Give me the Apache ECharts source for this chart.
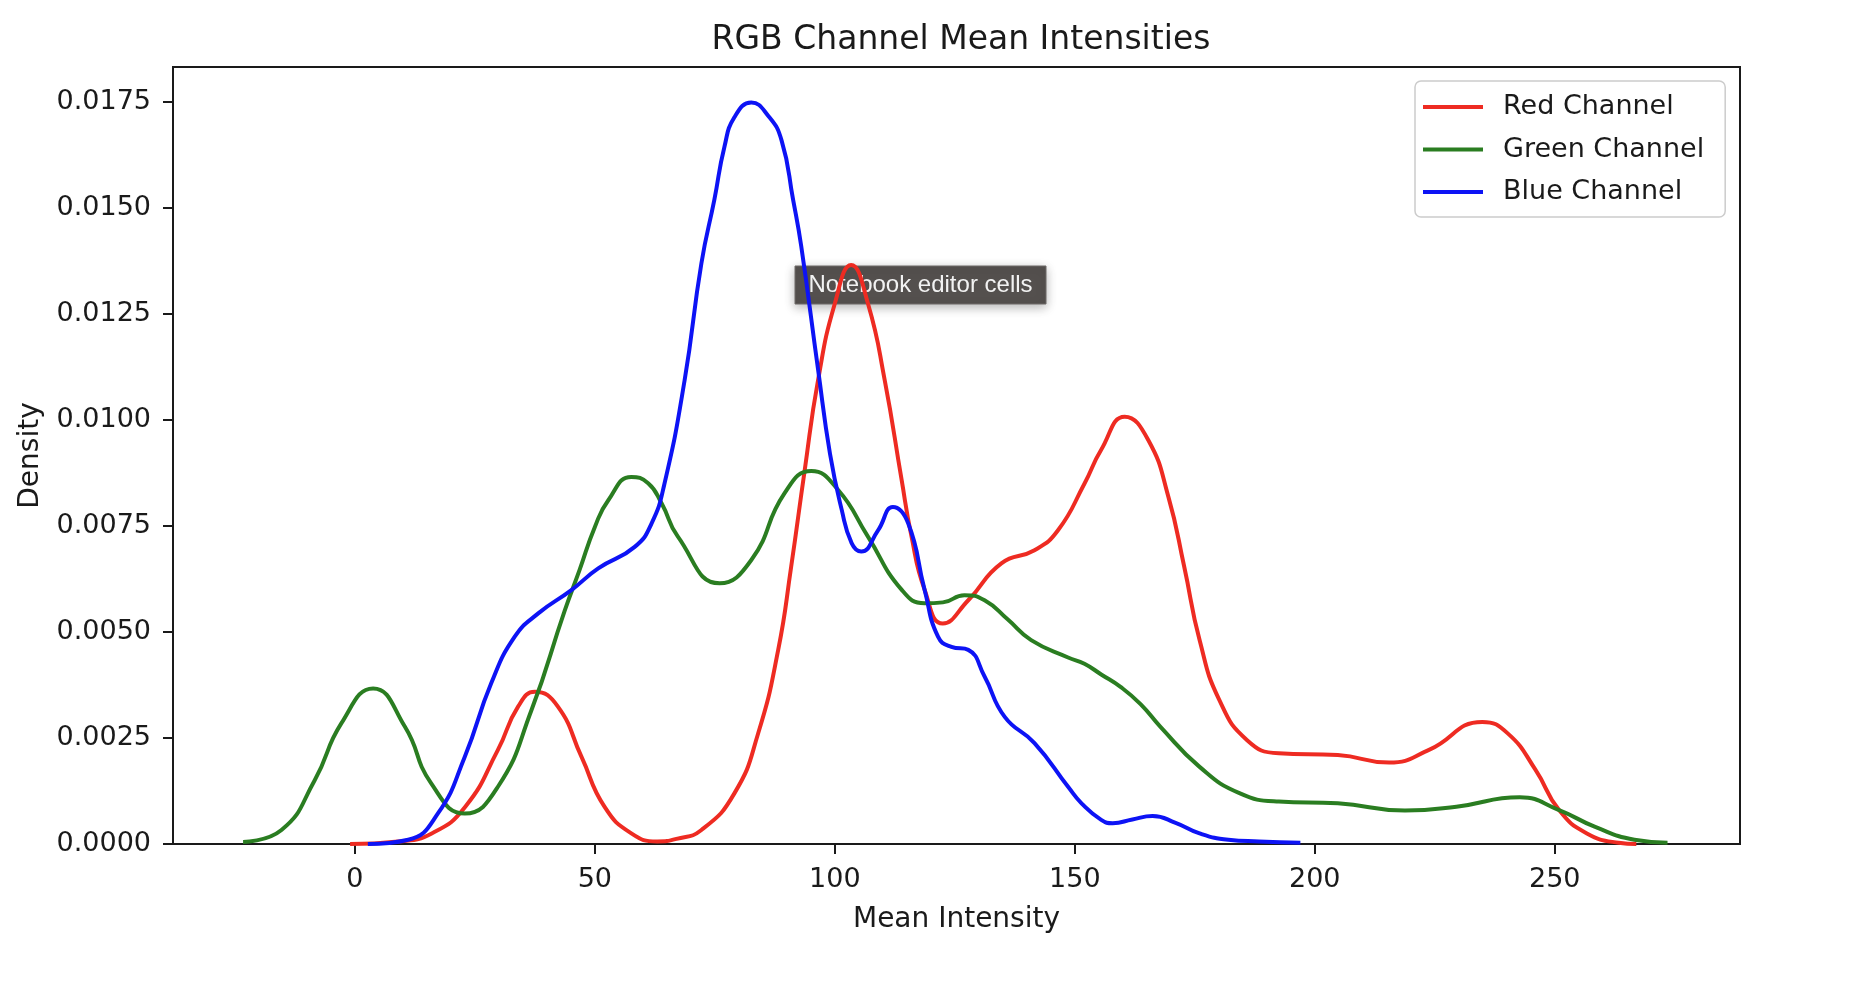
<!DOCTYPE html>
<html>
<head>
<meta charset="utf-8">
<script src="https://cdn.jsdelivr.net/npm/echarts@6/dist/echarts.min.js"></script>
<style>
html,body{margin:0;padding:0;background:#fff;}
#chart{width:1854px;height:982px;}
</style>
</head>
<body>
<div id="chart"></div>
<script>
var seriesNames = ['Red Channel', 'Green Channel', 'Blue Channel'];
var xTicks = [0, 50, 100, 150, 200, 250];
var yTicks = [0, 0.0025, 0.005, 0.0075, 0.01, 0.0125, 0.015, 0.0175];

var redX = [-1, 9, 16, 23, 29.8, 34, 37.5, 42.3, 47.2, 52, 57.6, 63, 67, 72.2, 79.1, 84, 88.2, 90.9, 93.7, 96.5, 100, 103.4, 106.9, 110.4, 113.9, 115.9, 118.7, 122.5, 127.8, 134.7, 141.6, 146.5, 152, 155.5, 160.4, 165.3, 169.5, 172.8, 176, 180.1, 185.9, 192.5, 204.8, 215.5, 223.8, 234.9, 240.2, 246, 250.9, 256.7, 263.3, 267];
var redY = [0, 0.00006, 0.00025, 0.00088, 0.00222, 0.00324, 0.00359, 0.00324, 0.00206, 0.00088, 0.00025, 0.00006, 0.00012, 0.00033, 0.0012, 0.0026, 0.00458, 0.00654, 0.0088, 0.01094, 0.01275, 0.01366, 0.01275, 0.01094, 0.0086, 0.0073, 0.006, 0.0052, 0.00575, 0.00662, 0.00693, 0.0074, 0.0085, 0.0093, 0.01008, 0.00953, 0.00819, 0.00654, 0.00481, 0.0034, 0.00245, 0.00214, 0.0021, 0.00192, 0.00222, 0.00288, 0.00261, 0.00175, 0.0008, 0.00025, 0.00003, 0];

var greenX = [-23.3, -15.3, -8.4, -2.8, 3.8, 10.4, 15.9, 22.9, 29.8, 36.8, 43.7, 46.8, 50, 52.8, 57.6, 61.1, 63.9, 67.3, 76, 82.6, 89.5, 95.1, 100.7, 106.9, 113.9, 118.7, 122.5, 127, 131.2, 136, 140.9, 148.6, 152, 155.5, 159.6, 163.7, 167.8, 176, 184.3, 192.5, 204.8, 218.8, 229.5, 242.7, 250.9, 258.3, 266.6, 273.5];
var greenY = [0.00005, 0.00033, 0.0015, 0.00285, 0.00367, 0.00277, 0.00143, 0.00072, 0.00135, 0.00316, 0.0055, 0.00646, 0.00748, 0.00811, 0.00866, 0.00851, 0.00804, 0.00725, 0.00615, 0.0067, 0.00827, 0.0088, 0.00835, 0.00725, 0.006, 0.00568, 0.0057, 0.00587, 0.00575, 0.0053, 0.00481, 0.0044, 0.00425, 0.004, 0.0037, 0.0033, 0.00277, 0.00182, 0.0012, 0.001, 0.00096, 0.00079, 0.00088, 0.0011, 0.0008, 0.00041, 0.0001, 0.00003];

var blueX = [2.7, 11.1, 17.3, 22.9, 28.4, 33.3, 38.2, 45.1, 50.7, 58.3, 61.8, 64.5, 68.7, 72.2, 74.9, 77, 79.1, 82.6, 86.1, 88.9, 91.3, 93, 96.5, 99, 101.4, 103.5, 105.5, 109, 112.1, 115.3, 118.7, 121.5, 124.3, 127.8, 131.2, 135.4, 141.6, 148.6, 151.4, 155.5, 157.9, 162, 166.2, 171, 176, 182, 188.4, 197];
var blueY = [0, 0.0001, 0.00072, 0.00206, 0.00379, 0.00489, 0.00544, 0.00599, 0.0065, 0.00701, 0.00756, 0.0085, 0.01094, 0.0137, 0.0152, 0.01645, 0.01715, 0.01749, 0.01718, 0.0166, 0.0152, 0.0141, 0.0112, 0.0092, 0.0079, 0.0071, 0.0069, 0.0074, 0.00795, 0.00756, 0.006, 0.00489, 0.00465, 0.00458, 0.00395, 0.003, 0.00238, 0.00135, 0.00096, 0.00057, 0.00049, 0.00058, 0.00066, 0.0005, 0.00025, 0.0001, 0.00006, 0.00003];

var seriesColors = ['#ee2b22', '#2a7d21', '#0d13f5'];

function pairs(xs, ys) {
  return xs.map(function (x, i) { return [x, ys[i]]; });
}

var chart = echarts.init(document.getElementById('chart'));
var FONT = 'DejaVu Sans';
var TXT = '#1a1a1a';

function lineSeries(name, data, color) {
  return {
    name: name,
    type: 'line',
    data: data,
    smooth: 0.5,
    symbol: 'none',
    lineStyle: { color: color, width: 4 },
    itemStyle: { color: color },
    emphasis: { disabled: true },
    animation: false
  };
}

chart.setOption({
  backgroundColor: '#ffffff',
  animation: false,
  title: {
    text: 'RGB Channel Mean Intensities',
    left: 956,
    textAlign: 'center',
    top: 19,
    textStyle: { fontFamily: FONT, fontSize: 33, fontWeight: 'normal', color: TXT }
  },
  grid: {
    left: 173, right: 114, top: 67, bottom: 138,
    show: true, borderColor: '#1a1a1a', borderWidth: 2,
    containLabel: false, outerBoundsMode: 'none'
  },
  legend: {
    data: seriesNames,
    orient: 'vertical',
    left: 1415,
    top: 81,
    padding: [10, 21, 9, 8],
    itemGap: 10.5,
    itemWidth: 60,
    itemHeight: 4,
    icon: 'rect',
    backgroundColor: 'rgba(255,255,255,0.85)',
    borderColor: '#cccccc',
    borderWidth: 1.5,
    borderRadius: 6,
    selectedMode: false,
    textStyle: { fontFamily: FONT, fontSize: 27, color: TXT, lineHeight: 32, padding: [0, 0, 0, 15] }
  },
  xAxis: {
    type: 'value',
    min: -37.9,
    max: 288.6,
    name: 'Mean Intensity',
    nameLocation: 'middle',
    nameGap: 62,
    nameTextStyle: { fontFamily: FONT, fontSize: 28, color: TXT },
    splitLine: { show: false },
    axisLine: { show: true, onZero: false, lineStyle: { color: '#1a1a1a', width: 2 } },
    axisTick: { show: true, length: 10, lineStyle: { color: '#1a1a1a', width: 2 }, customValues: xTicks },
    axisLabel: { fontFamily: FONT, fontSize: 27, color: TXT, margin: 22, customValues: xTicks }
  },
  yAxis: {
    type: 'value',
    min: 0,
    max: 0.01833,
    name: 'Density',
    nameLocation: 'middle',
    nameGap: 128,
    nameTextStyle: { fontFamily: FONT, fontSize: 28, color: TXT },
    splitLine: { show: false },
    axisLine: { show: true, onZero: false, lineStyle: { color: '#1a1a1a', width: 2 } },
    axisTick: { show: true, length: 10, lineStyle: { color: '#1a1a1a', width: 2 }, customValues: yTicks },
    axisLabel: {
      fontFamily: FONT, fontSize: 27, color: TXT, margin: 22, customValues: yTicks,
      formatter: function (v) { return v.toFixed(4); }
    }
  },
  series: [
    lineSeries(seriesNames[0], pairs(redX, redY), seriesColors[0]),
    lineSeries(seriesNames[1], pairs(greenX, greenY), seriesColors[1]),
    lineSeries(seriesNames[2], pairs(blueX, blueY), seriesColors[2])
  ],
  graphic: [{
    type: 'group',
    z: 100,
    children: [{
      type: 'rect',
      shape: { x: 795, y: 266, width: 251, height: 38 },
      style: {
        fill: '#54504e', stroke: '#6e6a68', lineWidth: 1,
        shadowBlur: 10, shadowColor: 'rgba(0,0,0,0.28)', shadowOffsetY: 3
      }
    }, {
      type: 'text',
      x: 920.5,
      y: 285,
      style: {
        text: 'Notebook editor cells',
        fill: '#f2f2f2',
        font: '24px "Liberation Sans", Arial, sans-serif',
        align: 'center',
        verticalAlign: 'middle'
      }
    }]
  }]
});
</script>
</body>
</html>
